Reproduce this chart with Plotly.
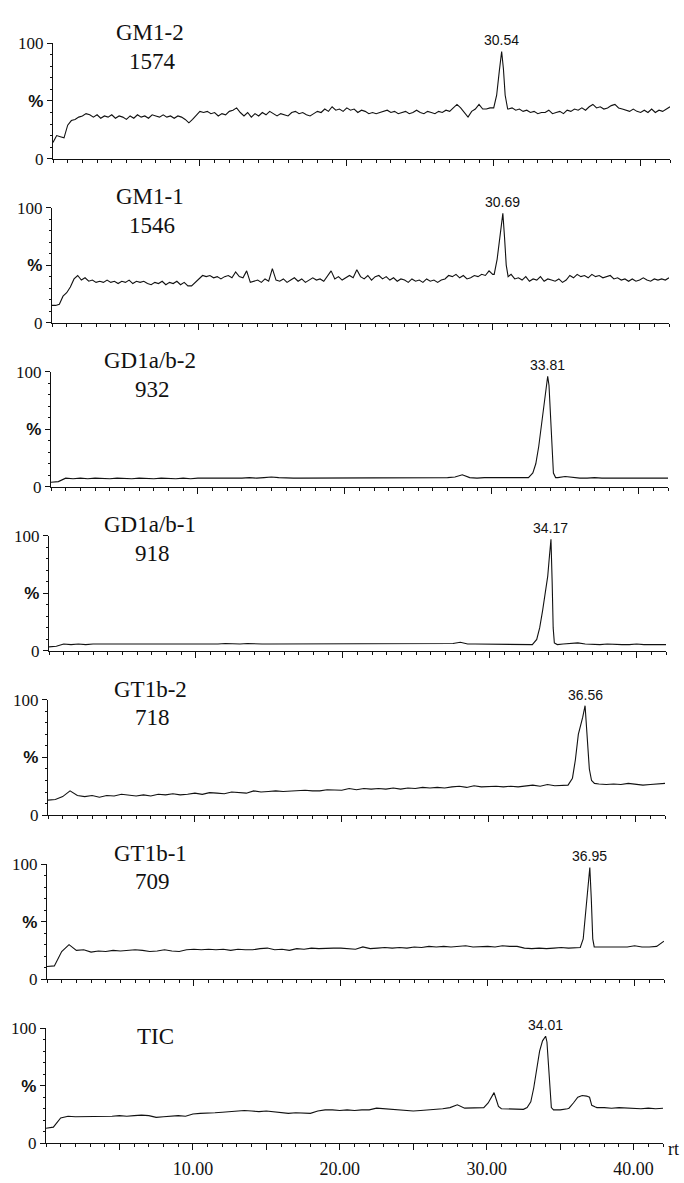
import plotly.graph_objects as go

# ---------------- data (retention time in min, relative intensity in %) ----------------
panel_names = ["GM1-2", "GM1-1", "GD1a/b-2", "GD1a/b-1", "GT1b-2", "GT1b-1", "TIC"]
panel_mz = ["1574", "1546", "932", "918", "718", "709", ""]
peak_rt_labels = ["30.54", "30.69", "33.81", "34.17", "36.56", "36.95", "34.01"]
x_tick_vals = [10, 20, 30, 40]
x_tick_text = ["10.00", "20.00", "30.00", "40.00"]

# baseline traces, sampled every 0.25 min (GM1) or 0.5 min (others)
gm1_2_base = [14, 20, 19, 18, 29, 33, 34, 36, 37, 39, 38, 36, 38, 35, 37, 36, 38, 35, 37, 36,
              34, 37, 35, 38, 36, 37, 35, 38, 37, 36, 38, 36, 37, 35, 37, 36, 34, 31, 34, 38,
              41, 40, 41, 39, 40, 37, 39, 38, 41, 42, 44, 40, 37, 40, 36, 39, 37, 40, 38, 41,
              39, 37, 39, 38, 37, 40, 41, 39, 40, 38, 37, 39, 41, 40, 43, 41, 45, 42, 43, 41,
              44, 42, 43, 40, 42, 41, 39, 40, 39, 40, 41, 42, 40, 41, 39, 40, 41, 39, 40, 42,
              40, 39, 41, 40, 39, 41, 40, 42, 41, 44, 47, 44, 40, 36, 41, 43, 47, 43, 43, 44,
              44, 44, 44, 44, 43, 44, 42, 43, 41, 42, 40, 41, 39, 40, 40, 42, 39, 40, 41, 39,
              42, 41, 43, 42, 44, 42, 45, 47, 44, 45, 43, 44, 46, 47, 44, 43, 42, 41, 43, 41,
              40, 42, 40, 43, 40, 42, 41, 43, 45]
gm1_2_peak_t = [30.0, 30.2, 30.38, 30.54, 30.66, 30.78, 30.95]
gm1_2_peak_v = [44, 55, 76, 93, 78, 55, 43]

gm1_1_base = [15, 15, 16, 23, 26, 31, 38, 41, 37, 39, 36, 37, 35, 36, 35, 37, 35, 36, 34, 36,
              35, 37, 34, 36, 35, 36, 34, 33, 35, 34, 36, 33, 35, 34, 36, 33, 35, 32, 32, 35,
              38, 41, 40, 41, 39, 40, 38, 40, 41, 39, 44, 40, 39, 45, 35, 36, 37, 35, 38, 36,
              47, 37, 36, 38, 35, 37, 39, 36, 38, 35, 37, 39, 37, 38, 36, 40, 45, 38, 40, 37,
              39, 41, 39, 46, 40, 38, 41, 37, 40, 41, 38, 40, 37, 39, 36, 38, 37, 35, 38, 36,
              37, 35, 38, 36, 37, 35, 37, 38, 41, 40, 42, 39, 41, 38, 39, 41, 40, 42, 41, 45,
              42, 42, 42, 42, 40, 42, 38, 39, 37, 40, 36, 38, 37, 40, 36, 38, 37, 36, 38, 35,
              37, 41, 39, 42, 40, 41, 39, 42, 40, 41, 39, 40, 41, 38, 39, 37, 38, 36, 38, 36,
              37, 39, 37, 36, 38, 37, 38, 37, 39]
gm1_1_peak_t = [30.1, 30.3, 30.5, 30.69, 30.8, 30.92, 31.05]
gm1_1_peak_v = [42, 55, 78, 95, 75, 50, 40]

gd1_2_base = [4, 4.5, 7.5, 7, 7.5, 7, 7.5, 7, 7, 7.5, 7, 7, 7.5, 7, 7, 7.5, 7, 7, 7.5, 7,
              7.5, 7.5, 7, 7.5, 7.5, 7.5, 7.5, 8, 7.5, 8, 8.5, 8, 7.5, 7.5, 7.5, 7.5, 7.5, 7.5,
              7.5, 7.5, 7.5, 7.5, 7.5, 7.5, 7.5, 8, 7.5, 8, 7.5, 7.5, 8, 8, 7.5, 8, 8, 8.5,
              10.5, 8, 7.5, 8, 8, 8, 8, 7.5, 8, 8, 8, 8, 8, 8, 9, 8, 7.5, 7.5, 8, 7.5, 7.5,
              7.5, 7, 7.5, 7.5, 7.5, 7.5, 7.5, 7.5]
gd1_2_peak_t = [32.5, 32.8, 33.0, 33.2, 33.4, 33.55, 33.7, 33.81, 33.9, 34.0, 34.1, 34.2, 34.35]
gd1_2_peak_v = [8, 12, 20, 35, 55, 70, 88, 96, 88, 60, 30, 12, 8]

gd1_1_base = [3.5, 4, 6, 5.5, 6, 5.5, 6, 6, 5.5, 6, 6, 5.5, 6, 6, 6, 5.5, 6, 6, 6, 6,
              6, 6, 6, 6, 6.5, 6, 6, 6.5, 6, 6, 6, 6, 6, 6, 6.5, 6, 6, 6, 6, 6,
              6, 6, 6, 6, 6, 6, 6, 6, 6, 6, 6, 6, 6, 6, 6, 6.5, 7.5, 6, 6, 6,
              6, 6, 6, 6, 6, 6, 6, 6, 6, 6, 6, 6.5, 7, 6, 5.5, 5.5, 6, 5.5, 5.5, 5.5,
              6, 5.5, 5.5, 5.5, 5.5]
gd1_1_peak_t = [32.9, 33.2, 33.4, 33.6, 33.8, 33.95, 34.05, 34.17, 34.25, 34.32, 34.4, 34.6]
gd1_1_peak_v = [5.5, 10, 20, 35, 50, 65, 80, 97, 60, 20, 7, 5.5]

gt1_2_base = [13, 13.5, 16, 21, 17, 16, 17, 15.5, 17, 16.5, 18, 17, 16.5, 17.5, 16.5, 18, 17.5,
              18.5, 17.5, 18, 19, 18, 19.5, 19, 18.5, 20, 19.5, 19, 21, 20, 20.5, 21, 20.5, 21,
              21, 21.5, 21, 21, 22, 21.5, 21.5, 23, 22, 23, 22.5, 23, 22.5, 23.5, 22.5, 23.5,
              23, 24, 23.5, 24, 23.5, 24.5, 25, 24, 25.5, 24.5, 25, 25, 24.5, 25, 24.5, 25.5,
              26, 25, 26.5, 25.5, 25.5, 26, 26, 26, 26, 27, 26.5, 27, 26.5, 27.5, 26.5, 26,
              26.5, 27, 27.5]
gt1_2_peak_t = [35.4, 35.7, 35.9, 36.1, 36.25, 36.4, 36.56, 36.7, 36.85, 37.0, 37.2]
gt1_2_peak_v = [26, 32, 48, 70, 77, 85, 95, 70, 40, 30, 27.5]

gt1_1_base = [11, 11.5, 24, 30, 25, 25.5, 23.5, 24.5, 24, 25, 24.5, 25, 25.5, 25, 24, 24.5,
              25.5, 24.5, 24, 25.5, 26, 25.5, 26, 25.5, 26, 25, 26, 25.5, 25.5, 26.5, 27, 25.5,
              26, 25, 26.5, 26, 27, 26.5, 27, 27, 27, 26.5, 26, 28, 26.5, 27, 27.5, 27, 27.5,
              27, 28, 27.5, 28.5, 28, 28.5, 28, 28.5, 29, 28, 28.5, 28.5, 28, 29, 28.5, 28.5,
              27, 26.5, 27, 26.5, 27, 27.5, 27, 27.5, 28, 28, 28, 28.5, 28, 28.5, 28, 29, 28,
              28, 28.5, 33]
gt1_1_peak_t = [36.3, 36.5, 36.7, 36.85, 36.95, 37.05, 37.15, 37.25]
gt1_1_peak_v = [27.5, 35, 60, 85, 97, 70, 35, 28]

tic_base = [13, 14, 22, 23.5, 23, 23, 23.5, 23, 23.5, 23.5, 24, 23.5, 24, 24.5, 24, 22.5, 23,
            23.5, 24, 23.5, 25.5, 26, 26, 26.5, 27, 27.5, 27.5, 28.5, 28, 27.5, 28, 27.5, 26.5,
            26, 26.5, 26.5, 26, 28, 29, 29, 28.5, 29, 28.5, 29, 29, 30.5, 30, 29.5, 29, 28,
            28, 28.5, 29, 29, 30, 31, 33.5, 30.5, 30.5, 31, 31, 31, 30, 30, 29.5, 29.5, 29.5,
            29.5, 29.5, 29.5, 29, 30, 30, 30, 30, 31, 31, 30.5, 31, 30.5, 30.5, 30, 30.5, 30,
            30.5]
tic_peak1_t = [29.8, 30.1, 30.35, 30.5, 30.65, 30.8, 31.0]
tic_peak1_v = [31, 35, 41, 44, 38, 32, 30]
tic_peak2_t = [32.5, 32.75, 33.0, 33.2, 33.4, 33.6, 33.8, 34.01, 34.1, 34.2, 34.3, 34.4, 34.55]
tic_peak2_v = [29.5, 31, 36, 48, 65, 80, 89, 93, 88, 70, 45, 31, 29]
tic_peak3_t = [35.6, 35.9, 36.2, 36.5, 36.8, 37.0, 37.15, 37.4]
tic_peak3_v = [30.5, 35, 40, 41.5, 41, 40, 33, 31.5]


def build(base, step, peaks):
    xs = [round(i * step, 3) for i in range(len(base))]
    ys = list(base)
    for pt, pv in peaks:
        lo, hi = pt[0], pt[-1]
        pts = [(a, b) for a, b in zip(xs, ys) if not (lo <= a <= hi)]
        pts += list(zip(pt, pv))
        pts.sort()
        xs = [p[0] for p in pts]
        ys = [p[1] for p in pts]
    return xs, ys


traces = [
    build(gm1_2_base, 0.25, [(gm1_2_peak_t, gm1_2_peak_v)]),
    build(gm1_1_base, 0.25, [(gm1_1_peak_t, gm1_1_peak_v)]),
    build(gd1_2_base, 0.5, [(gd1_2_peak_t, gd1_2_peak_v)]),
    build(gd1_1_base, 0.5, [(gd1_1_peak_t, gd1_1_peak_v)]),
    build(gt1_2_base, 0.5, [(gt1_2_peak_t, gt1_2_peak_v)]),
    build(gt1_1_base, 0.5, [(gt1_1_peak_t, gt1_1_peak_v)]),
    build(tic_base, 0.5, [(tic_peak1_t, tic_peak1_v), (tic_peak2_t, tic_peak2_v),
                          (tic_peak3_t, tic_peak3_v)]),
]
peak_tops = [(gm1_2_peak_t, gm1_2_peak_v), (gm1_1_peak_t, gm1_1_peak_v),
             (gd1_2_peak_t, gd1_2_peak_v), (gd1_1_peak_t, gd1_1_peak_v),
             (gt1_2_peak_t, gt1_2_peak_v), (gt1_1_peak_t, gt1_1_peak_v),
             (tic_peak2_t, tic_peak2_v)]

# ---------------- layout geometry (pixels) ----------------
W, H = 684, 1183
x_left = [53, 52, 51, 49, 48, 47, 46]
x_len = 617
panel_h = 117
serif = "Liberation Serif, Times New Roman, serif"
sans = "Liberation Sans, Arial, sans-serif"

fig = go.Figure()
annotations = []
layout = dict(width=W, height=H, margin=dict(l=0, r=0, t=0, b=0),
              paper_bgcolor="white", plot_bgcolor="white", showlegend=False)

for k in range(7):
    n = "" if k == 0 else str(k + 1)
    xs, ys = traces[k]
    fig.add_trace(go.Scatter(x=xs, y=ys, mode="lines",
                             line=dict(color="#111111", width=1.1),
                             xaxis="x" + n, yaxis="y" + n, hoverinfo="skip"))
    y0 = 152 + 166.8 * k
    y100 = y0 - panel_h
    last = (k == 6)
    layout["xaxis" + n] = dict(
        domain=[x_left[k] / W, (x_left[k] + x_len) / W],
        anchor="y" + n, range=[0, 42], showgrid=False, zeroline=False,
        showline=True, linecolor="#111111", linewidth=1.3,
        ticks="outside", ticklen=6, tickwidth=1, tickcolor="#111111",
        tickvals=[5, 10, 15, 20, 25, 30, 35, 40],
        ticktext=["", x_tick_text[0], "", x_tick_text[1], "", x_tick_text[2], "", x_tick_text[3]],
        showticklabels=last, ticklabelstandoff=3,
        tickfont=dict(family=serif, size=18, color="#111111"),
        minor=dict(dtick=1, tick0=0, ticklen=3, tickwidth=1, tickcolor="#111111", ticks="outside"),
    )
    layout["yaxis" + n] = dict(
        domain=[1 - y0 / H, 1 - y100 / H], anchor="x" + n, range=[0, 100],
        showgrid=False, zeroline=False, showline=True, linecolor="#111111", linewidth=1.3,
        ticks="outside", ticklen=5, tickwidth=1, tickcolor="#111111",
        tickvals=[0, 50, 100],
        ticktext=["0", "<span style='font-family:Liberation Sans;font-weight:bold'>%</span>", "100"],
        tickfont=dict(family=serif, size=17, color="#111111"),
        minor=dict(dtick=10, ticklen=2, tickwidth=1, tickcolor="#111111", ticks="outside"),
    )
    # panel titles
    if panel_mz[k]:
        annotations.append(dict(xref="paper", yref="paper", x=150 / W, y=1 - (y100 - 11) / H,
                                text=panel_names[k], showarrow=False, xanchor="center",
                                yanchor="middle", font=dict(family=serif, size=23, color="#111111")))
        annotations.append(dict(xref="paper", yref="paper", x=152 / W, y=1 - (y100 + 18) / H,
                                text=panel_mz[k], showarrow=False, xanchor="center",
                                yanchor="middle", font=dict(family=serif, size=23, color="#111111")))
    else:
        annotations.append(dict(xref="paper", yref="paper", x=155 / W, y=1 - (y100 + 8) / H,
                                text=panel_names[k], showarrow=False, xanchor="center",
                                yanchor="middle", font=dict(family=serif, size=23, color="#111111")))
    # peak label
    pt, pv = peak_tops[k]
    top = max(pv)
    annotations.append(dict(xref="x" + n, yref="y" + n, x=float(peak_rt_labels[k]), y=top,
                            text=peak_rt_labels[k], showarrow=False, xanchor="center",
                            yanchor="bottom", yshift=1,
                            font=dict(family=sans, size=14, color="#111111")))

annotations.append(dict(xref="paper", yref="paper", x=681 / W, y=1 - 1159 / H, text="rt",
                        showarrow=False, xanchor="right", yanchor="middle",
                        font=dict(family=serif, size=18, color="#111111")))
layout["annotations"] = annotations
fig.update_layout(**layout)
fig.write_html("out.html", config={"displayModeBar": False},
               post_script="document.body.style.margin='0';document.body.style.overflow='hidden';")
